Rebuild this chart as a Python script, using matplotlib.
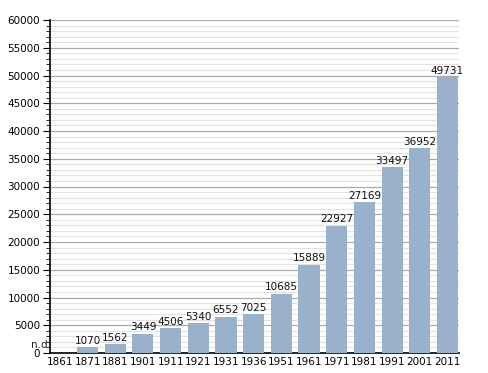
import numpy as np
import matplotlib
matplotlib.use("Agg")
import matplotlib.pyplot as plt
from matplotlib.ticker import MultipleLocator

years = ["1861", "1871", "1881", "1901", "1911", "1921", "1931", "1936",
         "1951", "1961", "1971", "1981", "1991", "2001", "2011"]
population = [None, 1070, 1562, 3449, 4506, 5340, 6552, 7025,
              10685, 15889, 22927, 27169, 33497, 36952, 49731]

bar_color = "#9ab1cb"

fig = plt.figure(figsize=(4.88, 3.73), dpi=100)
ax = fig.add_axes([50 / 488, 20 / 373, 409 / 488, 333 / 373])

x = np.arange(len(years))
vals = [v if v is not None else 0 for v in population]
ax.bar(x, vals, width=0.76, color=bar_color, zorder=3)

for i, v in enumerate(population):
    if v is None:
        ax.text(i - 0.68, 1440, "n.d.", ha="center", va="center", fontsize=7.5, color="#222222")
    else:
        ax.annotate(str(v), (i, v), xytext=(0, 1), textcoords="offset points",
                    ha="center", va="bottom", fontsize=7.5, color="#111111")

ax.set_xlim(-0.36, 14.42)
ax.set_ylim(0, 60000)
ax.set_xticks(x)
ax.set_xticklabels(years)
ax.yaxis.set_major_locator(MultipleLocator(5000))
ax.yaxis.set_minor_locator(MultipleLocator(1000))
ax.grid(axis="y", which="major", color="#aaaaaa", linewidth=0.9, zorder=0)
ax.grid(axis="y", which="minor", color="#e2e2e2", linewidth=0.8, zorder=0)

for side in ["top", "right"]:
    ax.spines[side].set_visible(False)
ax.spines["left"].set_linewidth(1.2)
ax.spines["bottom"].set_linewidth(1.2)
ax.tick_params(axis="x", length=0, labelsize=7.5, pad=3)
ax.tick_params(axis="y", which="major", length=5, labelsize=7.5, pad=2)
ax.tick_params(axis="y", which="minor", length=3)

fig.savefig("out.png", dpi=100)
